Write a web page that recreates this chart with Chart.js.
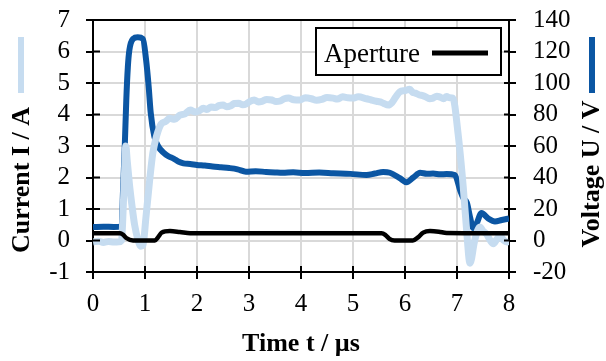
<!DOCTYPE html>
<html>
<head>
<meta charset="utf-8">
<script src="https://cdn.jsdelivr.net/npm/chart.js@4.4.1/dist/chart.umd.min.js"></script>
<style>
  html, body { margin: 0; padding: 0; background: #fff; }
  #wrap { width: 606px; height: 361px; }
</style>
</head>
<body>
<div id="wrap"><canvas id="pulseChart" width="606" height="361"></canvas></div>
<script>
// time axis / tick labels
const xTicks = [0, 1, 2, 3, 4, 5, 6, 7, 8];
const currentTicks = [-1, 0, 1, 2, 3, 4, 5, 6, 7];
const voltageTicks = [-20, 0, 20, 40, 60, 80, 100, 120, 140];

// Current I / A (light blue, left axis)
const currentTime = [0, 0.1, 0.2, 0.3, 0.4, 0.5, 0.55, 0.58, 0.61, 0.63, 0.66, 0.7, 0.75, 0.8, 0.86, 0.92, 0.96,
  1.02, 1.09, 1.15, 1.22, 1.31, 1.4, 1.47, 1.57, 1.67, 1.77, 1.87, 1.96, 2.05, 2.12, 2.19, 2.27, 2.35, 2.42, 2.5, 2.57,
  2.65, 2.72, 2.8, 2.88, 2.95, 3.02, 3.1, 3.18, 3.25, 3.34, 3.44, 3.52, 3.6, 3.68, 3.76, 3.86, 3.98, 4.08, 4.2, 4.3,
  4.4, 4.5, 4.62, 4.7, 4.8, 4.9, 5.0, 5.1, 5.26, 5.35, 5.45, 5.52, 5.58, 5.68, 5.75, 5.82, 5.9, 6.0, 6.09, 6.15, 6.2,
  6.28, 6.34, 6.4, 6.47, 6.54, 6.61, 6.68, 6.74, 6.8, 6.86, 6.92, 7.02, 7.12, 7.18, 7.25, 7.34, 7.44, 7.5, 7.57, 7.64,
  7.7, 7.77, 7.83, 7.9, 7.96, 8.0];
const currentVals = [-0.05, -0.02, -0.06, -0.03, -0.05, -0.04, 0.0, 1.0, 2.3, 3.0, 2.5, 1.8, 1.1, 0.5, 0.05, -0.18, -0.15,
  0.77, 1.92, 2.77, 3.3, 3.7, 3.78, 3.88, 3.85, 3.98, 4.02, 4.14, 4.08, 4.12, 4.2, 4.16, 4.24, 4.22, 4.28, 4.3, 4.25,
  4.28, 4.35, 4.36, 4.31, 4.34, 4.42, 4.46, 4.4, 4.42, 4.48, 4.46, 4.41, 4.43, 4.5, 4.52, 4.47, 4.46, 4.53, 4.5, 4.45,
  4.48, 4.54, 4.52, 4.49, 4.56, 4.53, 4.52, 4.56, 4.5, 4.46, 4.42, 4.4, 4.36, 4.3, 4.38, 4.55, 4.72, 4.76, 4.8, 4.7,
  4.68, 4.62, 4.6, 4.56, 4.5, 4.52, 4.58, 4.55, 4.5, 4.57, 4.53, 4.52, 3.4, 1.7, 0.43, -0.72, 0.0, 0.43, 0.3, 0.2, 0.0,
  -0.1, 0.05, 0.15, 0.0, -0.05, 0.0];

// Voltage U / V (dark blue, right axis)
const voltageTime = [0, 0.2, 0.4, 0.55, 0.58, 0.61, 0.64, 0.67, 0.7, 0.77, 0.86, 0.96, 1.02, 1.07, 1.11, 1.18, 1.25,
  1.35, 1.45, 1.55, 1.65, 1.74, 1.87, 2.0, 2.15, 2.3, 2.46, 2.62, 2.78, 2.94, 3.13, 3.33, 3.5, 3.65, 3.85, 4.08, 4.35,
  4.62, 4.95, 5.26, 5.42, 5.58, 5.71, 5.9, 6.03, 6.16, 6.29, 6.42, 6.54, 6.68, 6.8, 6.96, 7.06, 7.12, 7.19, 7.25, 7.31,
  7.38, 7.47, 7.6, 7.73, 7.86, 8.0];
const voltageVals = [8.5, 8.8, 8.6, 8.8, 34, 59, 89, 110, 121, 128, 129, 128, 115, 98, 81, 66, 60,
  56, 53.5, 52, 50, 49, 48.6, 48, 47.6, 47, 46.5, 46, 45.2, 43.7, 44, 43.5, 43.2, 43, 43.3, 42.8, 43.1,
  42.7, 42.3, 41.6, 42.5, 43.5, 43, 39.6, 37, 40, 43, 42.4, 42.5, 42, 42.2, 41.6, 32, 27, 24, 15, 8,
  11, 17.5, 14, 12, 13, 14];

// Aperture (black, left axis)
const apertureTime = [0, 0.52, 0.58, 0.64, 0.77, 1.19, 1.25, 1.32, 1.48, 1.67, 1.87, 5.55, 5.62, 5.7, 5.8, 6.15,
  6.25, 6.35, 6.48, 6.65, 6.8, 8.0];
const apertureVals = [0.23, 0.23, 0.18, 0.08, 0.0, 0.0, 0.1, 0.25, 0.3, 0.27, 0.23, 0.23, 0.18, 0.05, 0.0, 0.0,
  0.1, 0.25, 0.3, 0.28, 0.24, 0.23];

const lightBlue = '#c6dcf0';
const darkBlue = '#0b56a3';
const serif = '"Liberation Serif", "Times New Roman", serif';

function pairs(ts, vs) {
  return ts.map((t, i) => ({ x: t, y: vs[i] }));
}

// titles with coloured bars, legend box, frame and inner tick marks
const decorPlugin = {
  id: 'decor',
  afterDraw(chart) {
    const ctx = chart.ctx;
    const a = chart.chartArea;
    const xs = chart.scales.x, yl = chart.scales.yL, yr = chart.scales.yR;
    ctx.save();
    ctx.strokeStyle = '#000';
    ctx.lineWidth = 2;
    // top frame
    ctx.beginPath();
    ctx.moveTo(a.left, a.top);
    ctx.lineTo(a.right, a.top);
    ctx.stroke();
    // inner tick marks
    ctx.beginPath();
    xTicks.forEach(v => {
      const px = xs.getPixelForValue(v);
      ctx.moveTo(px, a.bottom);
      ctx.lineTo(px, a.bottom - 6);
    });
    currentTicks.forEach(v => {
      const py = yl.getPixelForValue(v);
      ctx.moveTo(a.left, py);
      ctx.lineTo(a.left + 7, py);
    });
    voltageTicks.forEach(v => {
      const py = yr.getPixelForValue(v);
      ctx.moveTo(a.right, py);
      ctx.lineTo(a.right - 5, py);
    });
    ctx.stroke();

    // axis titles
    ctx.fillStyle = '#000';
    ctx.font = 'bold 26px ' + serif;
    ctx.textAlign = 'center';
    ctx.textBaseline = 'middle';
    ctx.save();
    ctx.translate(22, 180);
    ctx.rotate(-Math.PI / 2);
    ctx.fillText('Current I / A', 0, 0);
    ctx.restore();
    ctx.save();
    ctx.translate(592, 174);
    ctx.rotate(-Math.PI / 2);
    ctx.fillText('Voltage U / V', 0, 0);
    ctx.restore();
    ctx.fillText('Time t / \u00b5s', (a.left + a.right) / 2, 344);

    ctx.fillStyle = lightBlue;
    ctx.fillRect(18, 37, 6, 56);
    ctx.fillStyle = darkBlue;
    ctx.fillRect(589, 37, 6, 56);

    // legend
    ctx.fillStyle = '#fff';
    ctx.fillRect(316, 28, 185, 47);
    ctx.strokeStyle = '#000';
    ctx.lineWidth = 2;
    ctx.strokeRect(316, 28, 185, 47);
    ctx.fillStyle = '#000';
    ctx.font = '27px ' + serif;
    ctx.textAlign = 'left';
    ctx.textBaseline = 'alphabetic';
    ctx.fillText('Aperture', 324, 62);
    ctx.lineWidth = 5;
    ctx.beginPath();
    ctx.moveTo(432, 53);
    ctx.lineTo(488, 53);
    ctx.stroke();
    ctx.restore();
  }
};

function noOverflow(s) {
  s.paddingTop = 0;
  s.paddingBottom = 0;
  s.paddingLeft = 0;
  s.paddingRight = 0;
}

const ctx = document.getElementById('pulseChart').getContext('2d');
new Chart(ctx, {
  type: 'line',
  data: {
    datasets: [
      { label: 'Aperture', data: pairs(apertureTime, apertureVals), yAxisID: 'yL',
        borderColor: '#000', borderWidth: 4.5, pointRadius: 0, cubicInterpolationMode: 'monotone' },
      { label: 'Current', data: pairs(currentTime, currentVals), yAxisID: 'yL',
        borderColor: lightBlue, borderWidth: 7, pointRadius: 0, cubicInterpolationMode: 'monotone' },
      { label: 'Voltage', data: pairs(voltageTime, voltageVals), yAxisID: 'yR',
        borderColor: darkBlue, borderWidth: 6, pointRadius: 0, cubicInterpolationMode: 'monotone' }
    ]
  },
  options: {
    responsive: false,
    animation: false,
    layout: { padding: { top: 20, left: 0, right: 0, bottom: 0 } },
    plugins: {
      legend: { display: false },
      tooltip: { enabled: false }
    },
    scales: {
      x: {
        type: 'linear',
        min: 0, max: 8,
        afterBuildTicks(s) { s.ticks = xTicks.map(v => ({ value: v })); },
        afterFit(s) { s.height = 89; noOverflow(s); },
        ticks: { color: '#000', font: { family: serif, size: 25 }, padding: 10, autoSkip: false, maxRotation: 0 },
        grid: { color: '#d9d9d9', lineWidth: 2, tickColor: '#000', tickLength: 7 },
        border: { color: '#000', width: 2 }
      },
      yL: {
        position: 'left',
        min: -1, max: 7,
        afterBuildTicks(s) { s.ticks = currentTicks.map(v => ({ value: v })); },
        afterFit(s) { s.width = 93; noOverflow(s); },
        ticks: { color: '#000', font: { family: serif, size: 25 }, padding: 16, autoSkip: false },
        grid: { color: '#d9d9d9', lineWidth: 2, tickColor: '#000', tickLength: 7 },
        border: { color: '#000', width: 2 }
      },
      yR: {
        position: 'right',
        min: -20, max: 140,
        afterBuildTicks(s) { s.ticks = voltageTicks.map(v => ({ value: v })); },
        afterFit(s) { s.width = 97; noOverflow(s); },
        ticks: { color: '#000', font: { family: serif, size: 25 }, padding: 17, autoSkip: false },
        grid: { drawOnChartArea: false, tickColor: '#000', tickLength: 7, lineWidth: 2 },
        border: { color: '#000', width: 2 }
      }
    }
  },
  plugins: [decorPlugin]
});
</script>
</body>
</html>
